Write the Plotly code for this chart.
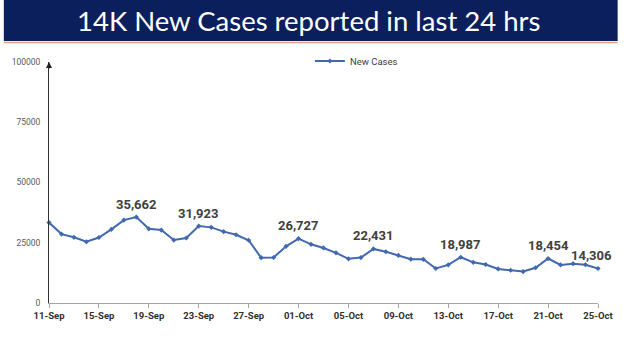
import plotly.graph_objects as go

dates = ["11-Sep","12-Sep","13-Sep","14-Sep","15-Sep","16-Sep","17-Sep","18-Sep","19-Sep","20-Sep",
         "21-Sep","22-Sep","23-Sep","24-Sep","25-Sep","26-Sep","27-Sep","28-Sep","29-Sep","30-Sep",
         "01-Oct","02-Oct","03-Oct","04-Oct","05-Oct","06-Oct","07-Oct","08-Oct","09-Oct","10-Oct",
         "11-Oct","12-Oct","13-Oct","14-Oct","15-Oct","16-Oct","17-Oct","18-Oct","19-Oct","20-Oct",
         "21-Oct","22-Oct","23-Oct","24-Oct","25-Oct"]
new_cases = [33376, 28591, 27254, 25404, 27176, 30570, 34403, 35662, 30773, 30256,
             26115, 26964, 31923, 31382, 29616, 28326, 26041, 18795, 18870, 23529,
             26727, 24354, 22842, 20799, 18346, 18833, 22431, 21257, 19740, 18166,
             18132, 14313, 15823, 18987, 16862, 15981, 14146, 13596, 13058, 14623,
             18454, 15786, 16326, 15906, 14306]
labelled = ["18-Sep", "23-Sep", "01-Oct", "07-Oct", "14-Oct", "21-Oct", "25-Oct"]
tick_labels = dates[::4]
y_ticks = [0, 25000, 50000, 75000, 100000]
title = "14K New Cases reported in last 24 hrs"

idx = list(range(len(dates)))

H = 351
MT, MB = 62, 48
plot_h = H - MT - MB
def py(pix):
    return (H - MB - pix) / plot_h

fig = go.Figure()
fig.add_trace(go.Scatter(
    x=idx, y=new_cases, mode="lines+markers", name="New Cases",
    line=dict(color="#4169b0", width=2),
    marker=dict(symbol="diamond", size=4, color="#4169b0"),
    cliponaxis=False,
))

for d in labelled:
    i = dates.index(d)
    fig.add_annotation(
        x=i, y=new_cases[i], text=f"{new_cases[i]:,}", showarrow=False,
        yshift=13, xshift=-7 if i == len(dates) - 1 else 0,
        font=dict(family="Roboto", size=13, color="#404040", weight="bold"),
    )

# y-axis arrowhead
fig.add_annotation(x=0, y=100000, xref="x", yref="y", text="", showarrow=True,
                   arrowhead=2, arrowsize=1, arrowwidth=1.2, arrowcolor="#202020",
                   ax=0, ay=8)

fig.update_layout(
    width=625, height=351,
    margin=dict(l=46, r=20, t=MT, b=MB),
    paper_bgcolor="white", plot_bgcolor="white",
    showlegend=True,
    legend=dict(x=0.56, y=py(61), xanchor="center", yanchor="middle", orientation="h",
                font=dict(family="Roboto", size=9.5, color="#404040"),
                bgcolor="rgba(0,0,0,0)", itemwidth=30),
    xaxis=dict(range=[0, 44], tickmode="array", tickvals=idx[::4], ticktext=tick_labels,
               showgrid=False, zeroline=False, showline=True, linecolor="#a6a6a6", linewidth=1,
               ticks="outside", ticklen=4, tickcolor="#a6a6a6",
               tickfont=dict(family="Roboto", size=9.5, color="#303030", weight="bold")),
    yaxis=dict(range=[0, 100000], tickmode="array", tickvals=y_ticks,
               ticktext=[str(v) for v in y_ticks],
               showgrid=False, zeroline=False, showline=True, linecolor="#303030", linewidth=1,
               ticks="", ticklabelstandoff=6,
               tickfont=dict(family="Roboto", size=8.5, color="#595959")),
)

# title banner
fig.add_shape(type="rect", xref="paper", yref="paper", x0=-46/559, x1=(625-46)/559,
              y0=py(41), y1=py(0), fillcolor="#0b1f5c", line=dict(width=0), layer="above")
fig.add_shape(type="line", xref="paper", yref="paper", x0=-46/559, x1=(625-46)/559,
              y0=py(42.5), y1=py(42.5), line=dict(color="#e8a080", width=1.5))
fig.add_annotation(xref="paper", yref="paper", x=(310-46)/559, y=py(21),
                   text=title, showarrow=False, xanchor="center", yanchor="middle",
                   font=dict(family="Lato", size=27.5, color="white"))

fig.write_html("out.html")
